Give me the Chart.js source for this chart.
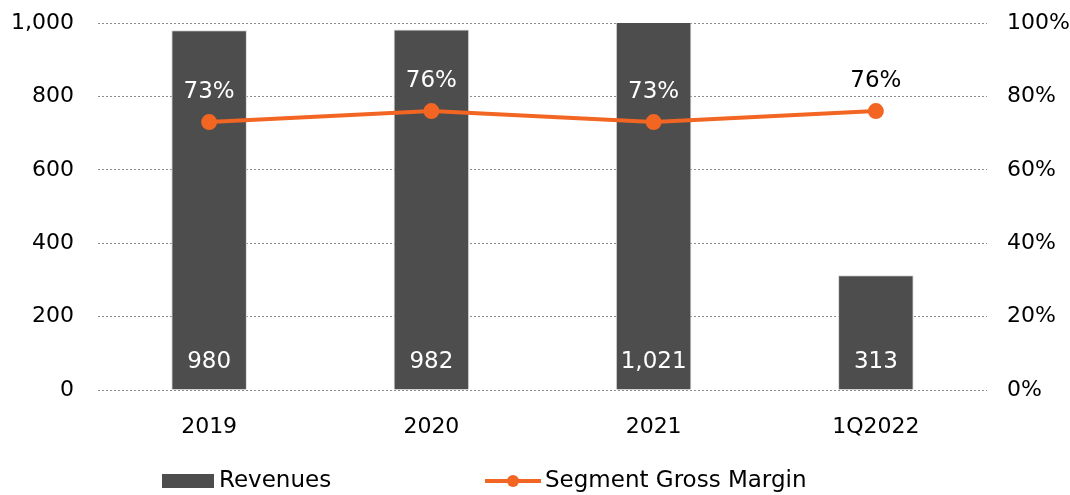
<!DOCTYPE html>
<html>
<head>
<meta charset="utf-8">
<script src="https://cdn.jsdelivr.net/npm/chart.js@4"></script>
<style>
	html, body { margin: 0; padding: 0; background: #fff; }
	#wrap { width: 1070px; height: 495px; }
</style>
</head>
<body>
<div id="wrap"><canvas id="myChart" width="1070" height="495"></canvas></div>
<script>
const categories = ["2019", "2020", "2021", "1Q2022"];
const revenues = [980, 982, 1021, 313];
const grossMargin = [73, 76, 73, 76];
const leftTicks = [0, 200, 400, 600, 800, 1000];
const rightTicks = [0, 20, 40, 60, 80, 100];

const fontFamily = "'DejaVu Sans', sans-serif";
const barColor = "#4d4d4d";
const lineColor = "#f26522";

// labels on bars and points, plus the legend
const labelPlugin = {
	id: "labels",
	afterDatasetsDraw(chart) {
		const ctx = chart.ctx;
		ctx.save();
		ctx.font = "23px " + fontFamily;
		ctx.textAlign = "center";
		ctx.textBaseline = "middle";
		const pts = chart.getDatasetMeta(0).data;
		const bars = chart.getDatasetMeta(1).data;
		bars.forEach((bar, i) => {
			ctx.fillStyle = "#fff";
			ctx.fillText(revenues[i].toLocaleString("en-US"), bar.x, chart.scales.y.bottom - 28);
		});
		pts.forEach((p, i) => {
			const bar = bars[i];
			const ly = p.y - 30;
			ctx.fillStyle = ly - 12 > bar.y ? "#fff" : "#000";
			ctx.fillText(grossMargin[i] + "%", p.x, ly);
		});
		ctx.restore();
	},
	afterDraw(chart) {
		const ctx = chart.ctx;
		ctx.save();
		ctx.font = "23px " + fontFamily;
		ctx.textBaseline = "middle";
		ctx.textAlign = "left";
		const y = 481;
		ctx.fillStyle = barColor;
		ctx.fillRect(162, y - 7, 52, 14);
		ctx.fillStyle = "#000";
		ctx.fillText("Revenues", 219, y);
		ctx.strokeStyle = lineColor;
		ctx.lineWidth = 4;
		ctx.beginPath();
		ctx.moveTo(485, y);
		ctx.lineTo(541, y);
		ctx.stroke();
		ctx.fillStyle = lineColor;
		ctx.beginPath();
		ctx.arc(513, y, 6, 0, Math.PI * 2);
		ctx.fill();
		ctx.fillStyle = "#000";
		ctx.fillText("Segment Gross Margin", 545, y);
		ctx.restore();
	}
};

const ctx = document.getElementById("myChart");
const myChart = new Chart(ctx, {
	data: {
		labels: categories,
		datasets: [
			{
				type: "line",
				label: "Segment Gross Margin",
				data: grossMargin,
				yAxisID: "y2",
				borderColor: lineColor,
				backgroundColor: lineColor,
				borderWidth: 4,
				pointRadius: 6,
				pointHoverRadius: 6,
				tension: 0,
				order: 0,
			},
			{
				type: "bar",
				label: "Revenues",
				data: revenues,
				yAxisID: "y",
				backgroundColor: barColor,
				borderColor: "#d9d9d9",
				borderWidth: 1,
				barPercentage: 0.34,
				categoryPercentage: 1,
				order: 1,
			},
		],
	},
	options: {
		responsive: false,
		animation: false,
		layout: { padding: 0 },
		plugins: {
			legend: { display: false },
			tooltip: { enabled: false },
		},
		scales: {
			x: {
				grid: { display: false },
				border: { display: false },
				ticks: { color: "#000", font: { size: 22, family: fontFamily }, padding: 16 },
				afterFit(scale) { scale.height = 105; },
			},
			y: {
				position: "left",
				min: 0,
				max: 1000,
				afterBuildTicks(scale) { scale.ticks = leftTicks.map((v) => ({ value: v })); },
				ticks: {
					color: "#000",
					font: { size: 22, family: fontFamily },
					padding: 24,
					callback: (v) => v.toLocaleString("en-US"),
				},
				grid: { color: "#8c8c8c", drawTicks: false, lineWidth: 1 },
				border: { display: false, dash: [2, 2] },
				afterFit(scale) {
					scale.width = 98;
					scale.paddingTop = 23;
					scale.paddingBottom = 13;
				},
			},
			y2: {
				position: "right",
				min: 0,
				max: 100,
				afterBuildTicks(scale) { scale.ticks = rightTicks.map((v) => ({ value: v })); },
				ticks: {
					color: "#000",
					font: { size: 22, family: fontFamily },
					padding: 12,
					callback: (v) => v + "%",
				},
				grid: { display: false },
				border: { display: false },
				afterFit(scale) {
					scale.width = 83;
					scale.paddingTop = 23;
					scale.paddingBottom = 13;
				},
			},
		},
	},
	plugins: [labelPlugin],
});
</script>
</body>
</html>
